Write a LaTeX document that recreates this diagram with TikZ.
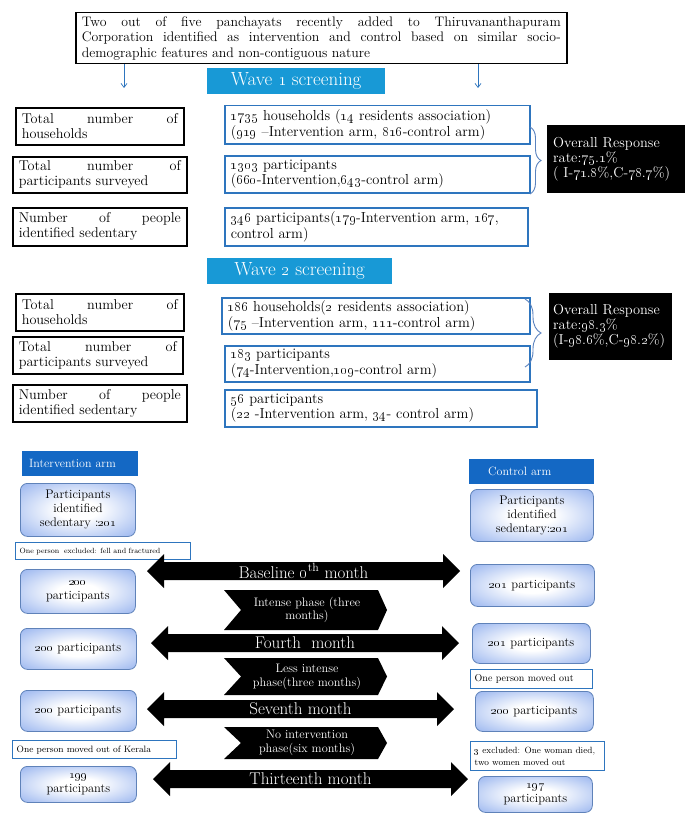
\documentclass[tikz,border=0pt]{standalone}
\usetikzlibrary{arrows.meta,decorations.pathreplacing,shadings}
\definecolor{wavec}{RGB}{24,153,214}
\definecolor{armc}{RGB}{20,104,196}
\definecolor{bluebd}{RGB}{46,117,190}
\definecolor{bracec}{RGB}{90,130,190}
\definecolor{rndbd}{RGB}{95,130,185}
\definecolor{gradc}{RGB}{160,186,240}
\definecolor{gradd}{RGB}{135,165,232}
\pgfdeclareradialshading{rndshade}{\pgfpoint{0bp}{0bp}}{color(0bp)=(white); color(9bp)=(white); color(34bp)=(gradc); color(50bp)=(gradd)}
\newcommand\os[1]{\oldstylenums{#1}}
\newcommand\fsz[2]{\fontsize{#1}{#2}\selectfont}
\newcommand\dblarr[5]{%
  \fill[black] (#2,#4) -- (#2+17,#4-17) -- (#2+17,#4-9) -- (#3-17,#4-9) -- (#3-17,#4-17) -- (#3,#4)
    -- (#3-17,#4+17) -- (#3-17,#4+9) -- (#2+17,#4+9) -- (#2+17,#4+17) -- cycle;
  \node[arrlab] (#1) at ({(#2+#3)/2},#4) {#5};}
\newcommand\chev[4]{%
  \fill[black] (224,#2) -- (378,#2) -- (387,{(#2+#3)/2}) -- (378,#3) -- (224,#3) -- (241,{(#2+#3)/2}) -- cycle;
  \node[chevlab] (#1) at (307,{(#2+#3)/2}) {#4};}
\begin{document}
\begin{tikzpicture}[x=1pt,y=-1pt,
  tbox/.style={draw=black, line width=1.5pt, anchor=north west, inner xsep=6pt, inner ysep=1pt, align=justify, font=\fsz{13.8}{15.5}},
  lbox/.style={draw=black, line width=1.6pt, anchor=north west, inner xsep=6pt, inner ysep=0pt, align=justify, font=\fsz{14.2}{15}},
  rbox/.style={draw=bluebd, line width=1.5pt, fill=white, anchor=north west, inner xsep=6pt, inner ysep=0pt, align=left, font=\fsz{14.5}{15.5}},
  blk/.style={fill=black, text=white, anchor=north west, inner xsep=7pt, inner ysep=0pt, align=left, font=\fsz{14.4}{15}},
  wave/.style={fill=wavec, text=white, anchor=north west, inner sep=0pt, font=\fsz{19}{20}},
  arm/.style={fill=armc, text=white, anchor=north west, inner xsep=7pt, inner ysep=0pt, align=left, font=\fsz{12}{13}},
  rnd/.style={draw=rndbd, line width=0.8pt, rounded corners=7pt, shading=rndshade, anchor=north west, inner sep=2pt, align=center, font=\fsz{12.5}{14}},
  sbox/.style={draw=bluebd, line width=1.4pt, fill=white, anchor=north west, inner xsep=4pt, inner ysep=0pt, align=left},
  arrlab/.style={text=white, inner sep=0pt, font=\fsz{17}{19}},
  chevlab/.style={text=white, inner sep=0pt, align=center, font=\fsz{12.3}{13.8}},
  conn/.style={draw=bluebd, line width=0.7pt, -{Straight Barb[length=4pt,width=6pt]}},
  brc/.style={draw=bracec, line width=0.9pt, decorate}
]
\useasboundingbox (0,0) rectangle (686,824);
\fill[white] (0,0) rectangle (686,824);

% top
\node[tbox, minimum width=491pt, minimum height=51pt, text width=479pt] (top) at (75,12)
  {Two out of five panchayats recently added to Thiruvananthapuram\linebreak Corporation identified as intervention and control based on similar socio-\linebreak demographic features and non-contiguous nature};
\node[wave, minimum width=178pt, minimum height=26pt] (w1) at (207,68) {Wave \os{1} screening};
\coordinate (a1) at (124,88);
\coordinate (a2) at (478,88);
\draw[conn] (top.south -| a1) -- (a1);
\draw[conn] (top.south -| a2) -- (a2);

% wave 1
\node[lbox, minimum width=168pt, minimum height=37pt, text width=156pt] (l1) at (15,107) {Total number of\linebreak households};
\node[lbox, minimum width=174pt, minimum height=36pt, text width=162pt] (l2) at (12,156) {Total number of\linebreak participants surveyed};
\node[lbox, minimum width=174pt, minimum height=38pt, text width=162pt] (l3) at (12,207) {Number of people\linebreak identified sedentary};
\node[rbox, minimum width=305pt, minimum height=38pt, text width=293pt] (r1) at (224,105)
  {\os{1735} households (\os{14} residents association)\\(\os{919} –Intervention arm, \os{816}-control arm)};
\node[rbox, minimum width=305pt, minimum height=37pt, text width=293pt] (r2) at (224,155)
  {\os{1303} participants\\(\os{660}-Intervention,\os{643}-control arm)};
\node[rbox, minimum width=303pt, minimum height=38pt, text width=291pt] (r3) at (224,207)
  {\os{346} participants(\os{179}-Intervention arm, \os{167},\\control arm)};
\coordinate (b1t) at (530,127);
\coordinate (b1b) at (530,194);
\draw[brc, decoration={brace, amplitude=11pt}] (b1t) -- (b1b);
\node[blk, minimum width=138pt, minimum height=68pt, text width=126pt, inner xsep=6pt] (k1) at (547,125)
  {Overall Response\\rate:\os{75}.\os{1}\%\\( I-\os{71}.\os{8}\%,C-\os{78}.\os{7}\%)};

% wave 2
\node[wave, minimum width=185pt, minimum height=26pt] (w2) at (207,258) {Wave \os{2} screening};
\node[lbox, minimum width=168pt, minimum height=37pt, text width=156pt] (l4) at (15,293) {Total number of\linebreak households};
\node[lbox, minimum width=170pt, minimum height=37pt, text width=158pt] (l5) at (12,336) {Total number of\linebreak participants surveyed};
\node[lbox, minimum width=174pt, minimum height=37pt, text width=162pt] (l6) at (12,384) {Number of people\linebreak identified sedentary};
\node[rbox, minimum width=308pt, minimum height=36pt, text width=296pt] (r4) at (221,297)
  {\os{186} households(\os{2} residents association)\\(\os{75} –Intervention arm, \os{111}-control arm)};
\node[rbox, minimum width=305pt, minimum height=36pt, text width=293pt] (r5) at (224,345)
  {\os{183} participants\\(\os{74}-Intervention,\os{109}-control arm)};
\node[rbox, minimum width=312pt, minimum height=37pt, text width=300pt] (r6) at (224,389)
  {\os{56} participants\\(\os{22} -Intervention arm, \os{34}- control arm)};
\coordinate (b2t) at (525,299);
\coordinate (b2b) at (525,367);
\draw[brc, decoration={brace, amplitude=16pt}] (b2t) -- (b2b);
\node[blk, minimum width=123pt, minimum height=67pt, text width=115pt, inner xsep=4pt] (k2) at (549,293)
  {Overall Response\\rate:\os{98}.\os{3}\%\\(I-\os{98}.\os{6}\%,C-\os{98}.\os{2}\%)};

% arms
\node[arm, minimum width=116pt, minimum height=25pt, text width=102pt] (ia) at (22,451) {Intervention arm};
\node[arm, minimum width=125pt, minimum height=25pt, text width=111pt] (ca) at (469,459) {\hspace*{12pt}Control arm};
\node[rnd, minimum width=115pt, minimum height=53pt, text width=111pt] (p1) at (20,483) {Participants\\identified\\sedentary :\os{201}};
\node[rnd, minimum width=123pt, minimum height=52pt, text width=119pt] (p2) at (470,489) {Participants\\identified\\sedentary:\os{201}};
\node[sbox, minimum width=175pt, minimum height=17pt, text width=167pt, font=\fsz{7.5}{9}] (ex1) at (15,542) {One person\ \ excluded: fell and fractured};

\node[rnd, minimum width=115pt, minimum height=44pt, text width=111pt] (la) at (20,569) {\os{200}\\participants};
\node[rnd, minimum width=124pt, minimum height=42pt, text width=120pt] (ra) at (470,564) {\os{201} participants};
\node[rnd, minimum width=116pt, minimum height=41pt, text width=112pt] (lb) at (20,628) {\os{200} participants};
\node[rnd, minimum width=118pt, minimum height=40pt, text width=114pt] (rb) at (472,623) {\os{201} participants};
\node[sbox, minimum width=122pt, minimum height=19pt, text width=114pt, font=\fsz{10}{11}] (mo) at (470,669) {One person moved out};
\node[rnd, minimum width=116pt, minimum height=41pt, text width=112pt] (lc) at (20,690) {\os{200} participants};
\node[rnd, minimum width=118pt, minimum height=40pt, text width=114pt] (rc) at (475,691) {\os{200} participants};
\node[sbox, minimum width=164pt, minimum height=18pt, text width=156pt, font=\fsz{9.2}{10}] (ke) at (12,740) {One person moved out of Kerala};
\node[sbox, minimum width=134pt, minimum height=29pt, text width=126pt, font=\fsz{9}{11.5}] (ex3) at (470,741) {\os{3} excluded: One woman died,\\two women moved out};
\node[rnd, minimum width=116pt, minimum height=36pt, text width=112pt] (ld) at (20,766) {\os{199}\\participants};
\node[rnd, minimum width=114pt, minimum height=36pt, text width=110pt] (rd) at (478,776) {\os{197}\\participants};

% timeline arrows
\dblarr{t0}{147}{460}{571}{Baseline \os{0}\textsuperscript{th} month}
\dblarr{t4}{151}{459}{643}{Fourth\ \ month}
\dblarr{t7}{147}{454}{709}{Seventh month}
\dblarr{t13}{153}{468}{779}{Thirteenth month}
% phases
\chev{ph1}{590}{630}{Intense phase (three\\months)}
\chev{ph2}{658}{695}{Less intense\\phase(three months)}
\chev{ph3}{727}{759}{No intervention\\phase(six months)}
\end{tikzpicture}
\end{document}
